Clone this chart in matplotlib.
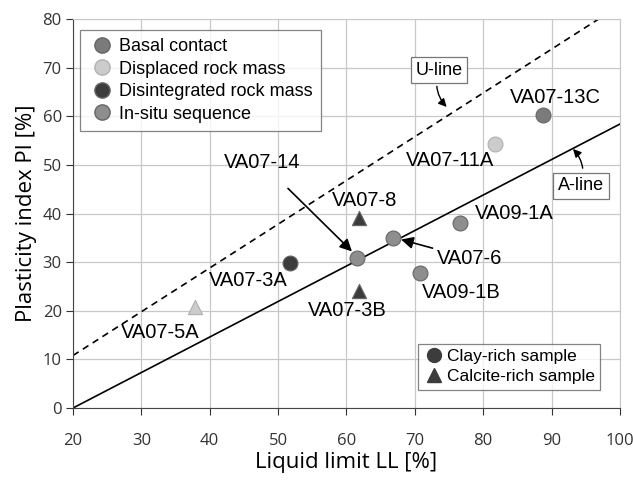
import matplotlib
matplotlib.use("Agg")
import matplotlib.pyplot as plt
from matplotlib.lines import Line2D
import numpy as np

plt.rcParams["font.family"] = ["Liberation Sans", "DejaVu Sans"]

# samples
names = ["VA07-13C", "VA07-11A", "VA09-1A", "VA07-6", "VA09-1B",
         "VA07-14", "VA07-8", "VA07-3B", "VA07-3A", "VA07-5A"]
ll = [88.8, 81.8, 76.6, 66.8, 70.8, 61.6, 61.8, 61.8, 51.8, 37.8]
pi = [60.2, 54.3, 38.0, 34.9, 27.8, 30.9, 39.0, 24.0, 29.9, 20.7]
groups = ["Basal contact", "Displaced rock mass", "In-situ sequence", "In-situ sequence",
          "In-situ sequence", "In-situ sequence", "Disintegrated rock mass",
          "Disintegrated rock mass", "Disintegrated rock mass", "Displaced rock mass"]
shapes = ["o", "o", "o", "o", "o", "o", "^", "^", "o", "^"]

group_names = ["Basal contact", "Displaced rock mass", "Disintegrated rock mass", "In-situ sequence"]
group_colors = {"Basal contact": "#7b7b7b", "Displaced rock mass": "#cccccc",
                "Disintegrated rock mass": "#3c3c3c", "In-situ sequence": "#8e8e8e"}

# label text positions (data coords)
label_pos = {"VA07-13C": (90.6, 63.9), "VA07-11A": (75.1, 50.9), "VA09-1A": (84.5, 40.0),
             "VA09-1B": (76.8, 23.7), "VA07-8": (62.7, 42.7), "VA07-3B": (60.1, 20.0),
             "VA07-3A": (45.7, 26.2), "VA07-5A": (32.8, 15.5)}

fig = plt.figure(figsize=(6.33, 4.82), dpi=100)
ax = fig.add_axes([0.1153, 0.1535, 0.864, 0.807])

ax.set_xlim(20, 100)
ax.set_ylim(0, 80)
ax.set_xticks(np.arange(20, 101, 10))
ax.set_yticks(np.arange(0, 81, 10))
ax.grid(True, color="#c8c8c8", linewidth=0.9)
ax.set_axisbelow(True)
for s in ["top", "right"]:
    ax.spines[s].set_color("#c8c8c8")
for s in ["left", "bottom"]:
    ax.spines[s].set_color("#444444")
ax.tick_params(colors="#333333", length=5, width=0.8)
ax.tick_params(axis="x", pad=13)
ax.tick_params(axis="y", pad=3)
for lab in ax.get_xticklabels() + ax.get_yticklabels():
    lab.set_fontfamily("Open Sans")
    lab.set_fontsize(12)
    lab.set_color("#333333")

# A-line and U-line
xa = np.array([20, 100])
ax.plot(xa, 0.73 * (xa - 20), color="black", linewidth=1.2, zorder=2)
xu = np.array([20, 8 + 80 / 0.9])
ax.plot(xu, 0.9 * (xu - 8), color="black", linewidth=1.2, linestyle=(0, (4, 3)), zorder=2)

for n, x, y, g, m in zip(names, ll, pi, groups, shapes):
    ax.scatter(x, y, s=115 if m == "o" else 105, marker=m, color=group_colors[g],
               edgecolors="#b0b0b0" if g == "Displaced rock mass" else "#666666",
               linewidths=0.8, zorder=4)

for n, (tx, ty) in label_pos.items():
    ax.text(tx, ty, n, fontsize=14.5, ha="center", va="center", zorder=5)

ax.annotate("VA07-14", xy=(61.1, 31.8), xytext=(47.6, 50.5), fontsize=14.5, ha="center", va="center",
            arrowprops=dict(arrowstyle="-|>", color="black", lw=1.2, mutation_scale=18,
                            shrinkA=14, shrinkB=2), zorder=5)
ax.annotate("VA07-6", xy=(67.6, 34.8), xytext=(73.2, 30.8), fontsize=14.5, ha="left", va="center",
            arrowprops=dict(arrowstyle="-|>", color="black", lw=1.2, mutation_scale=18,
                            shrinkA=1, shrinkB=2), zorder=5)

ax.annotate("U-line", xy=(74.8, 61.7), xytext=(73.5, 69.5), fontsize=13, ha="center", va="center",
            bbox=dict(boxstyle="square,pad=0.25", fc="white", ec="#777777", lw=0.9),
            arrowprops=dict(arrowstyle="-|>", color="black", lw=1, mutation_scale=12,
                            connectionstyle="arc3,rad=0.3", shrinkA=2, shrinkB=1), zorder=6)
ax.annotate("A-line", xy=(93.0, 53.5), xytext=(94.3, 45.7), fontsize=13, ha="center", va="center",
            bbox=dict(boxstyle="square,pad=0.25", fc="white", ec="#777777", lw=0.9),
            arrowprops=dict(arrowstyle="-|>", color="black", lw=1, mutation_scale=12,
                            connectionstyle="arc3,rad=0.3", shrinkA=3, shrinkB=1), zorder=6)

# legends
h1 = [Line2D([], [], marker="o", linestyle="none", markersize=11, color=group_colors[g],
             markeredgecolor="#b0b0b0" if g == "Displaced rock mass" else "#666666")
      for g in group_names]
leg1 = ax.legend(h1, group_names, loc="upper left", bbox_to_anchor=(0.0, 0.99), fontsize=13,
                 frameon=True, fancybox=False, edgecolor="#666666", handletextpad=0.2,
                 borderpad=0.45, labelspacing=0.3, handlelength=1.5, borderaxespad=0.4)
leg1.get_frame().set_linewidth(0.9)
ax.add_artist(leg1)

h2 = [Line2D([], [], marker="o", linestyle="none", markersize=10, color="#3c3c3c"),
      Line2D([], [], marker="^", linestyle="none", markersize=10, color="#3c3c3c")]
leg2 = ax.legend(h2, ["Clay-rich sample", "Calcite-rich sample"], loc="lower right",
                 bbox_to_anchor=(0.98, 0.025), fontsize=12.5, frameon=True, fancybox=False,
                 edgecolor="#666666", handletextpad=0.1, borderpad=0.3, labelspacing=0.3,
                 handlelength=1.3)
leg2.get_frame().set_linewidth(0.9)

ax.set_xlabel("Liquid limit LL [%]", fontsize=16, fontfamily="Open Sans", labelpad=2)
ax.set_ylabel("Plasticity index PI [%]", fontsize=16, fontfamily="Open Sans", labelpad=4)

plt.savefig("out.png", dpi=100)
